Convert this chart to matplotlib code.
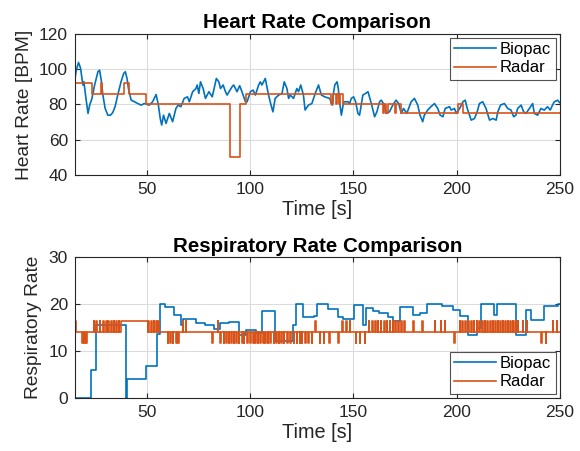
import matplotlib
matplotlib.use("Agg")
import matplotlib.pyplot as plt

plt.rcParams['font.family'] = ['Liberation Sans', 'DejaVu Sans']

# ---- heart rate, Biopac (time [s], BPM) ----
hr_time = [15, 15.7, 16.8, 17.8, 18.9, 19.4, 20.4, 21.4, 22.2, 23.3, 24.6, 26.2, 27, 27.8, 28.6,
           29.7, 31, 32.3, 33.4, 34.5, 35.8, 37.4, 38.7, 39.5, 40.3, 41, 42.3, 43.9, 45.5, 47.1,
           48.7, 51.1, 52.7, 54.4, 55.5, 56.4, 57.1, 58, 59.2, 60.8, 62.4, 64, 65.1, 66.4, 68,
           69.6, 70.5, 72.1, 73.7, 74.3, 75.1, 75.9, 77.2, 78.3, 80, 81.6, 83.6, 84.8, 85.6,
           86.9, 88, 88.8, 91.2, 92, 93.6, 94.9, 96, 97.7, 98.5, 100.1, 101.4, 102.5, 104.1,
           104.9, 105.7, 107.3, 108.1, 108.9, 110.1, 111, 112.1, 113.8, 115.4, 116.5, 117.8,
           118.6, 119.4, 121, 122.6, 123.4, 124.5, 125.8, 126.6, 128.2, 129.9, 131.5, 133.1,
           134.5, 136.1, 138.5, 139.8, 140.2, 141, 142.1, 142.7, 143.4, 144.2, 145.3, 147.4,
           148.2, 149, 150.1, 151.1, 152.2, 153, 153.8, 154.6, 155.9, 157.1, 158.7, 160.3,
           161.4, 162.7, 163.5, 165.1, 165.9, 167.5, 169.1, 170.7, 172, 173.2, 174.3, 175.9,
           178, 179.6, 181.2, 182.3, 183.6, 184.4, 186, 187.6, 189.3, 190.9, 192, 193.4, 194.5,
           196.6, 197.4, 199, 199.9, 201.5, 203.1, 204.2, 205.2, 207.1, 208.7, 210, 211.1,
           212.7, 214.3, 216, 217.6, 219.2, 220, 221.3, 223.2, 224.8, 226.4, 227.7, 228.8,
           229.6, 231.3, 232.5, 233.7, 235.3, 236.9, 237.7, 239.3, 240.9, 242.5, 244.1, 245.4,
           246.5, 247.4, 249, 250]
hr_biopac = [94, 99.4, 103.8, 100.4, 91, 92.8, 83.4, 74.9, 79.6, 83.4, 91, 98.5, 99.4, 93.8, 85.3,
             77.7, 73.9, 73.9, 75.4, 78.7, 85.3, 92.8, 97.6, 98.5, 94.7, 89, 82.4, 81.5, 80.5, 79.6,
             80.5, 79.6, 81.5, 85.6, 79.6, 72, 68.3, 73.9, 69.2, 74.9, 70.2, 77.7, 79.6, 78.7, 83.4,
             84.3, 81.5, 87.2, 89, 91, 86.2, 92.8, 89, 83.4, 87.2, 84.3, 94.7, 92.8, 89,
             91, 87.2, 85.3, 90, 91, 87.2, 90.6, 87.2, 81.5, 81.5, 87.2, 88.1, 85.3, 91,
             92.8, 91, 94.7, 90, 85.3, 79.6, 75.8, 83.4, 85.3, 86.2, 92.8, 89,
             83.4, 85.3, 83.4, 89, 87.2, 91, 85.3, 76.8, 79.6, 80.5, 86.2, 91,
             85.3, 84.3, 83.4, 79.6, 85.3, 91, 92.8, 89, 80.5, 73.9, 81.5, 81.5,
             80.5, 83.4, 84.3, 81.5, 74.9, 73.9, 79.6, 85.3, 86.2, 87.2, 80.5, 73,
             75.8, 81.5, 82.4, 79.6, 74.9, 75.8, 79.6, 82.4, 80.5, 74.9, 77.7, 74.9,
             81.5, 83.4, 79.6, 73.9, 70.2, 73.9, 76.8, 78.7, 80.5, 77.7, 74, 73, 77.7,
             78.7, 76.8, 77.7, 74.9, 77.7, 81.5, 82.4, 77.7, 71.1, 72, 75.8, 80.5,
             81.5, 77.7, 71.1, 72, 71.1, 75.8, 79.6, 80.5, 77.7, 76.8, 73, 73.9,
             77.7, 79.6, 75.8, 74.9, 77.7, 80.5, 74.9, 73.9, 77.7, 76.8, 78.7, 76.8,
             79.6, 81.5, 82.4, 81]

# ---- heart rate, Radar (step change times, BPM) ----
hr_radar_time = [15, 23.3, 27.5, 28.3, 39, 41.5, 49.5, 90.1, 95.2, 98, 139.3, 140, 141.5, 142.2,
                 143, 143.6, 145, 164.3, 165, 166, 166.8, 170, 170.6, 173.2, 200.7, 203, 250]
hr_radar = [92, 86, 92, 86, 92, 86, 80, 50, 80, 86, 80, 86, 80, 86,
            80, 86, 80, 75, 80, 75, 80, 75, 80, 75, 80, 75, 75]

# ---- respiratory rate, Biopac (step change times) ----
rr_time = [15, 22.7, 25.3, 39.8, 40.3, 49.5, 54.9, 56.1, 58.7, 63.0, 66.4, 67.5, 73.8, 78.3, 82.4,
           85.6, 89.6, 94.4, 98.0, 103.0, 105.8, 111.9, 120.5, 122.2, 125.8, 131.0, 132.6, 137.5,
           142.6, 145.0, 150.1, 154.7, 156.0, 159.6, 162.3, 166.8, 169.4, 172.4, 178.9, 182.5,
           185.5, 193.0, 198.3, 201.8, 205.7, 210.1, 212.0, 218.2, 219.8, 229.0, 233.8, 236.3,
           242.5, 249.0, 250]
rr_biopac = [0, 6, 15.5, 0, 4.1, 6.8, 13.7, 20.1, 19.4, 17.6, 15.5, 16.7, 15.9, 15.6, 14.6,
             15.9, 16.1, 13.4, 14.4, 13.8, 18.4, 12.1, 15.5, 20.0, 17.2, 17.5, 20.0, 18.9,
             17.2, 16.7, 19.7, 15.6, 19.2, 18.5, 18.0, 17.3, 16.3, 19.3, 17.7, 18.1,
             20.0, 19.5, 18.7, 17.4, 13.4, 14.8, 20.0, 17.7, 20.0, 13.4, 18.7, 16.5,
             19.6, 20.0, 20.0]

# ---- respiratory rate, Radar: base level with short jumps ----
rr_base, rr_high, rr_low = 14.1, 16.4, 11.7
rr_high_block = (37.5, 50.3)
rr_up_spikes = [15.3, 24.2, 25.4, 27.0, 28.6, 30.2, 31.3, 32.6, 33.9, 35.0, 36.2, 50.7, 52.0, 53.2,
                54.5, 55.5, 67.2, 68.8, 84.3, 131.5, 144.5, 146.6, 148.2, 157.5, 159.0, 160.6,
                161.8, 163.2, 164.8, 166.2, 167.6, 169.0, 170.4, 171.8, 173.2, 174.6, 179.0,
                183.5, 189.5, 192.3, 194.2, 201.5, 202.8, 204.2, 205.6, 207.0, 208.4, 209.8,
                211.0, 212.3, 213.6, 214.9, 216.2, 217.5, 218.8, 220.0, 221.2, 222.4, 223.6,
                224.8, 226.0, 227.2, 228.4, 229.6, 232.0, 234.0, 246.6, 248.5]
rr_down_spikes = [18.5, 19.4, 20.4, 60.0, 61.3, 62.4, 64.0, 65.1, 81.6, 85.6, 87.2, 88.5, 89.6,
                  90.7, 92.0, 93.3, 94.4, 96.0, 96.9, 98.5, 100.1, 101.4, 102.5, 103.6, 104.9,
                  106.2, 107.3, 108.4, 109.7, 111.3, 112.6, 113.8, 114.9, 116.2, 117.8, 119.4,
                  121.0, 122.6, 123.9, 125.0, 126.6, 128.2, 129.8, 133.7, 135.6, 138.2, 142.6,
                  151.1, 153.0, 155.4, 199.0, 240.9, 243.3]

segs = [(t, t + 0.3, rr_high) for t in rr_up_spikes]
segs += [(t, t + 0.3, rr_low) for t in rr_down_spikes]
segs.append((rr_high_block[0], rr_high_block[1], rr_high))
segs.sort()
rr_radar_t, rr_radar_v = [15], [rr_base]
for a, b, lev in segs:
    rr_radar_t += [a, b]
    rr_radar_v += [lev, rr_base]
rr_radar_t.append(250)
rr_radar_v.append(rr_base)

blue = '#0072BD'
orange = '#D95319'
dark = '#262626'
lw = 1.2

fig = plt.figure(figsize=(5.8, 4.51), dpi=100)
ax1 = fig.add_axes([0.129, 0.612, 0.836, 0.313])
ax2 = fig.add_axes([0.129, 0.118, 0.836, 0.312])


def style(ax):
    ax.grid(True, color='#dcdcdc', lw=0.8)
    ax.set_axisbelow(True)
    for s in ax.spines.values():
        s.set_color(dark)
        s.set_linewidth(0.8)
    ax.tick_params(direction='in', length=3.5, width=0.8, colors=dark, labelsize=12.5,
                   top=True, right=True, pad=5)
    ax.set_xlim(15, 250)
    ax.set_xticks([50, 100, 150, 200, 250])
    ax.set_xlabel('Time [s]', fontsize=14.3, color=dark, labelpad=2)


def legend(ax, loc):
    leg = ax.legend(loc=loc, fontsize=12, frameon=True, fancybox=False,
                    handlelength=2.5, borderaxespad=0.25, borderpad=0.25, labelspacing=0.2,
                    handletextpad=0.25)
    leg.get_frame().set_edgecolor(dark)
    leg.get_frame().set_linewidth(0.8)


ax1.plot(hr_time, hr_biopac, color=blue, lw=lw, label='Biopac')
ax1.step(hr_radar_time, hr_radar, where='post', color=orange, lw=lw, label='Radar')
style(ax1)
ax1.set_ylim(40, 120)
ax1.set_yticks([40, 60, 80, 100, 120])
ax1.set_ylabel('Heart Rate [BPM]', fontsize=13.8, color=dark, labelpad=4)
ax1.set_title('Heart Rate Comparison', fontsize=14.8, fontweight='bold', pad=4)
legend(ax1, 'upper right')

ax2.step(rr_time, rr_biopac, where='post', color=blue, lw=lw, label='Biopac')
ax2.step(rr_radar_t, rr_radar_v, where='post', color=orange, lw=lw, label='Radar')
style(ax2)
ax2.set_ylim(0, 30)
ax2.set_yticks([0, 10, 20, 30])
ax2.set_ylabel('Respiratory Rate', fontsize=13.8, color=dark, labelpad=5)
ax2.set_title('Respiratory Rate Comparison', fontsize=14.8, fontweight='bold', pad=4)
legend(ax2, 'lower right')

fig.savefig('out.png', dpi=100)
